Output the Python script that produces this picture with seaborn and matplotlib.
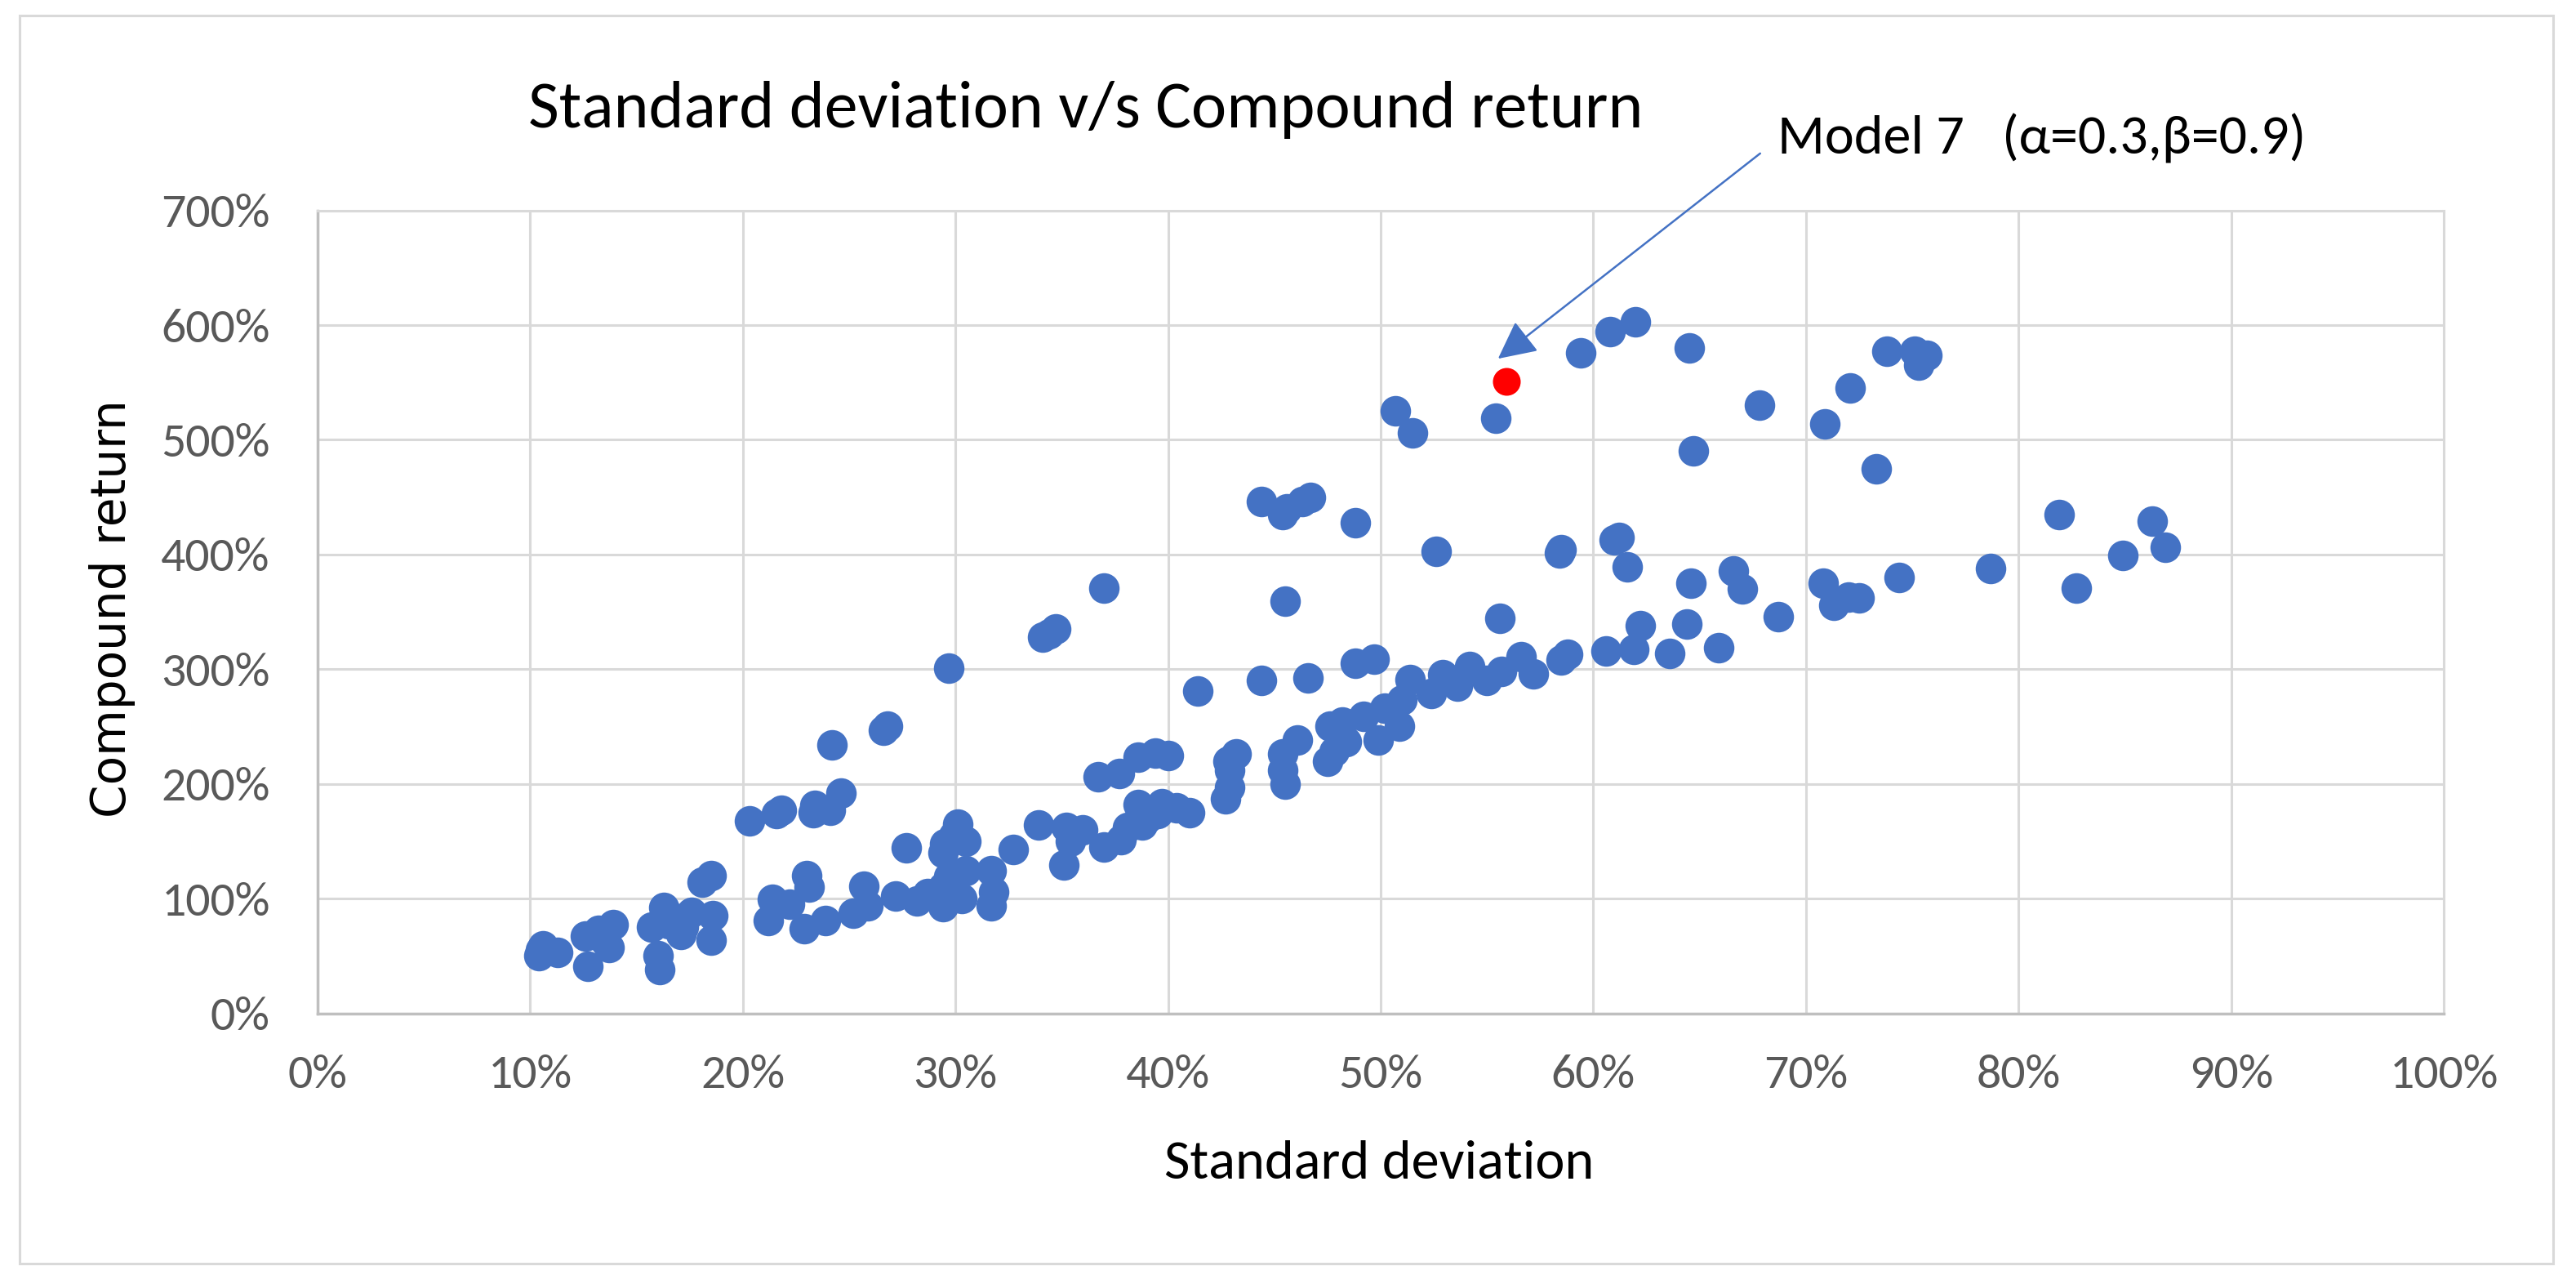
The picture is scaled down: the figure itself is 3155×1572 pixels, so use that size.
import matplotlib
matplotlib.use("Agg")
import matplotlib.pyplot as plt
from matplotlib import font_manager as fm
from matplotlib.ticker import FuncFormatter, FixedLocator
from matplotlib.patches import Rectangle
import numpy as np
import pandas as pd
import seaborn as sns

# ---------------- data (percent units) ----------------
std_dev = [
    10.4, 10.6, 11.3, 10.5, 12.7, 12.6, 13.7, 13.9, 13.2, 13.5,
    16.1, 16.0, 15.7, 16.3, 16.8, 17.1, 17.6, 18.5, 18.6, 18.1, 18.5, 16.5, 17.2,
    20.3, 21.8, 21.6, 23.3, 24.1, 24.6, 24.2, 23.4,
    21.2, 21.4, 22.2, 22.9, 23.0, 23.1, 23.9,
    26.8, 26.6, 25.2, 25.7, 25.9, 27.2, 27.7, 28.2, 28.7, 29.4, 29.4, 29.7, 30.3, 29.7,
    30.1, 29.9, 30.5, 29.5, 29.4, 30.5, 31.7, 31.8, 31.7, 32.7, 33.9, 35.1, 35.2, 35.4, 36.0, 37.0,
    34.1, 34.4, 34.7, 37.0,
    36.7, 37.7, 38.6, 39.4, 40.0,
    37.8, 38.1, 38.6, 38.8, 39.5, 39.7, 40.4, 41.0, 39.0,
    41.4, 44.4, 46.6, 48.8, 49.7,
    42.8, 43.2, 42.9, 42.9, 42.7,
    45.4, 46.1, 45.4, 45.5, 47.5, 47.6, 48.2, 48.4, 49.2, 49.9, 50.2, 50.9, 51.0, 47.8,
    44.4, 45.4, 46.3, 46.7, 48.8, 45.5, 45.6,
    50.7, 51.5, 55.4, 52.6, 58.5, 58.4, 55.6,
    51.4, 52.9, 52.4, 54.2, 53.6, 55.0, 55.7, 56.6, 57.2, 58.5, 58.8,
    59.4, 60.8, 62.0,
    61.2, 61.0, 61.6, 64.6, 66.6, 67.0, 68.7, 62.2, 64.4, 60.6, 61.9, 63.6, 65.9, 64.5, 64.7, 67.8,
    70.9, 72.1, 73.8, 75.1, 75.7, 75.3, 73.3, 81.9, 86.3, 86.9, 84.9, 82.7, 78.7, 74.4, 70.8, 71.3, 72.0, 72.5,
]
compound_return = [
    50, 59, 53, 55, 41, 67, 57, 77, 72, 63,
    38, 50, 75, 92, 83, 69, 88, 64, 85, 114, 120, 78, 75,
    168, 177, 174, 175, 177, 192, 234, 181,
    81, 99, 95, 74, 120, 110, 81,
    250, 247, 87, 111, 94, 102, 144, 98, 104, 93, 110, 119, 100, 301,
    165, 155, 150, 148, 140, 124, 124, 106, 94, 143, 164, 129, 162, 150, 160, 145,
    328, 331, 335, 371,
    206, 209, 223, 227, 225,
    151, 162, 182, 164, 174, 183, 179, 175, 170,
    281, 290, 292, 305, 309,
    220, 226, 212, 197, 187,
    226, 238, 212, 200, 220, 250, 254, 237, 259, 238, 266, 250, 273, 228,
    446, 435, 446, 450, 428, 359, 440,
    525, 506, 519, 403, 404, 401, 344,
    291, 295, 279, 302, 285, 290, 298, 311, 296, 308, 313,
    576, 594, 603,
    415, 413, 389, 375, 386, 370, 346, 338, 339, 316, 317, 314, 319, 580, 490, 530,
    514, 545, 577, 577, 574, 565, 475, 435, 429, 406, 399, 371, 388, 380, 375, 356, 363, 362,
]
model7_std = [55.9]
model7_ret = [551]

x_ticks = [0, 10, 20, 30, 40, 50, 60, 70, 80, 90, 100]
y_ticks = [0, 100, 200, 300, 400, 500, 600, 700]

title_text = "Standard deviation v/s Compound return"
x_label = "Standard deviation"
y_label = "Compound return"
note_text = "Model 7   (\u03b1=0.3,\u03b2=0.9)"

# ---------------- style ----------------
sns.set_theme(style="white")
avail = {f.name for f in fm.fontManager.ttflist}
narrow = next((f for f in ["Liberation Sans Narrow", "Carlito", "Roboto Condensed",
                           "Open Sans Condensed", "Liberation Sans"] if f in avail), "DejaVu Sans")
plt.rcParams["font.family"] = [narrow, "DejaVu Sans"]

BLUE = "#4472C4"
W, H = 3155, 1572
fig = plt.figure(figsize=(W / 100, H / 100), dpi=100)
fig.patch.set_facecolor("white")

# axes placement in pixels (from top-left)
ax_l, ax_r, ax_t, ax_b = 389, 2993, 257.6, 1240.5
ax = fig.add_axes([ax_l / W, 1 - ax_b / H, (ax_r - ax_l) / W, (ax_b - ax_t) / H])

df = pd.DataFrame({"std": std_dev, "ret": compound_return})
df7 = pd.DataFrame({"std": model7_std, "ret": model7_ret})
sns.scatterplot(data=df, x="std", y="ret", ax=ax, color=BLUE, s=729, linewidth=0, zorder=3)
sns.scatterplot(data=df7, x="std", y="ret", ax=ax, color="#FF0000", s=600, linewidth=0, zorder=4)

ax.set_xlim(0, 100)
ax.set_ylim(0, 700)
ax.xaxis.set_major_locator(FixedLocator(x_ticks))
ax.yaxis.set_major_locator(FixedLocator(y_ticks))
ax.xaxis.set_major_formatter(FuncFormatter(lambda v, p: f"{v:.0f}%"))
ax.yaxis.set_major_formatter(FuncFormatter(lambda v, p: f"{v:.0f}%"))
ax.set_axisbelow(True)
ax.grid(True, color="#D9D9D9", linewidth=2.2)
for side in ["top", "right"]:
    ax.spines[side].set_color("#D9D9D9")
    ax.spines[side].set_linewidth(2.2)
for side in ["left", "bottom"]:
    ax.spines[side].set_color("#BFBFBF")
    ax.spines[side].set_linewidth(2.5)
ax.tick_params(axis="both", length=0, colors="#595959", labelsize=40)
ax.tick_params(axis="x", pad=36)
ax.tick_params(axis="y", pad=42)
ax.set_xlabel("")
ax.set_ylabel("")

# chart border
fig.patches.append(Rectangle((24 / W, 1 - 1547 / H), (3127 - 24) / W, (1547 - 19) / H,
                             transform=fig.transFigure, fill=False, edgecolor="#D9D9D9",
                             linewidth=2.2))

# texts
t_title = fig.text(1330 / W, 1 - 156 / H, title_text, ha="center", va="baseline",
                   fontsize=55, color="black")
t_xl = fig.text(1689 / W, 1 - 1443 / H, x_label, ha="center", va="baseline",
                fontsize=45, color="black")
t_yl = fig.text(137 / W, 1 - 745 / H, y_label, ha="center", va="center", rotation=90,
                fontsize=40, color="black", family=["DejaVu Sans"])
t_note = fig.text(2177 / W, 1 - 189 / H, note_text, ha="left", va="baseline",
                  fontsize=45, color="black")

# arrow pointing to Model 7
ax.annotate("", xy=(55.52, 570.7), xytext=(67.85, 749.7), xycoords="data",
            textcoords="data", annotation_clip=False,
            arrowprops=dict(arrowstyle="-|>,head_length=0.4,head_width=0.2", color=BLUE,
                            lw=1.8, mutation_scale=72, shrinkA=0, shrinkB=0))

# fit text sizes to measured widths
fig.canvas.draw()
r = fig.canvas.get_renderer()

def fit(t, target, vertical=False):
    bb = t.get_window_extent(r)
    w = bb.height if vertical else bb.width
    t.set_fontsize(t.get_fontsize() * target / w)

fit(t_title, 1364)
fit(t_xl, 527)
fit(t_yl, 511, vertical=True)
fit(t_note, 647)

lab = ax.get_xticklabels()[1]
w10 = lab.get_window_extent(r).width
tick_fs = 40 * 103 / w10
ax.tick_params(axis="both", labelsize=tick_fs)

fig.savefig("out.png", dpi=100, facecolor="white")
